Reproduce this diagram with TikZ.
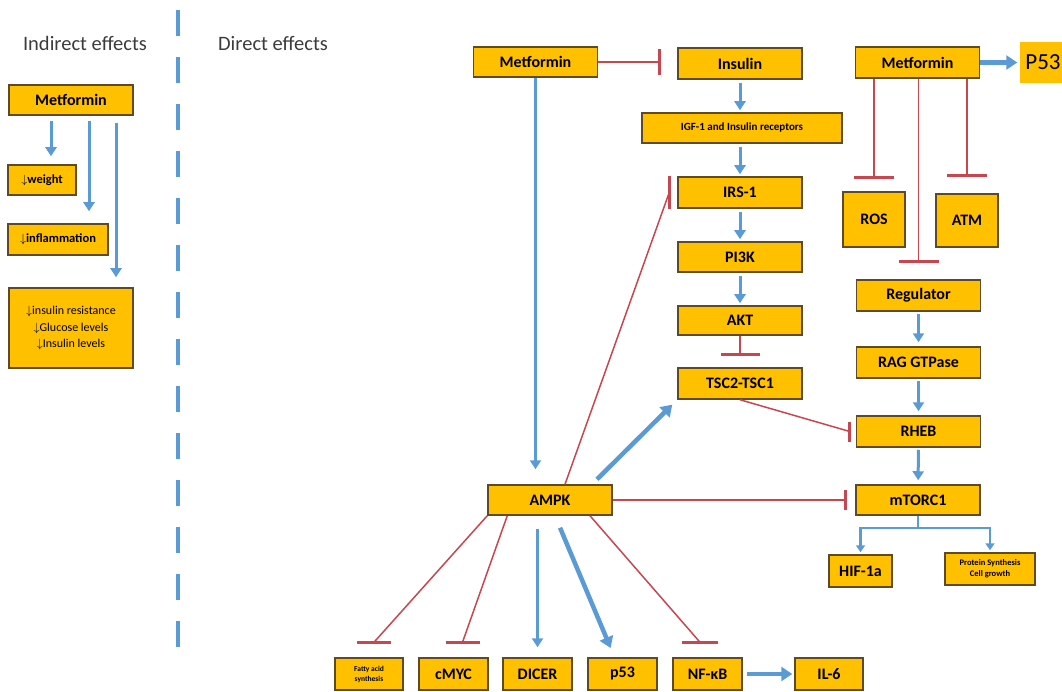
\documentclass[tikz,border=0pt]{standalone}
\usepackage{fontspec}
\setmainfont{Carlito}
\usetikzlibrary{arrows.meta,calc}
\definecolor{boxfill}{RGB}{255,192,0}
\definecolor{boxline}{RGB}{95,75,35}
\definecolor{actblue}{RGB}{91,155,213}
\definecolor{inhred}{RGB}{200,70,80}
\definecolor{titlegray}{RGB}{60,60,60}

\begin{document}
\begin{tikzpicture}[x=1pt,y=1pt,yscale=-1,
  box/.style={draw=boxline,fill=boxfill,line width=1.5pt,inner sep=1pt,align=center,font=\bfseries\fontsize{16}{18}\selectfont},
  wide/.style={minimum width=124pt,minimum height=30pt},
  small/.style={minimum height=30pt,font=\bfseries\fontsize{12.5}{14}\selectfont},
  low/.style={minimum width=69pt,minimum height=32pt},
  title/.style={text=titlegray,font=\fontsize{20.5}{24}\selectfont},
  act/.style={draw=actblue,line width=3pt,-{Triangle[length=9pt,width=11pt]}},
  actthick/.style={draw=actblue,line width=4.5pt,-{Triangle[length=11pt,width=14pt]}},
  branch/.style={draw=actblue,line width=2.5pt,-{Triangle[length=7pt,width=9pt]}},
  inh/.style={draw=inhred,line width=1.5pt},
  inhbar/.style={draw=inhred,line width=3pt},
  blocks/.style={inh,-{Bar[width=#1,line width'=3pt]}}
]
\useasboundingbox (0,0) rectangle (1062,692);

% headings and divider
\node[title] (tIndirect) at (85,43) {Indirect effects};
\node[title] (tDirect) at (273,43) {Direct effects};
\draw[actblue,line width=4pt,dash pattern={on 26pt off 21pt}] (178,10) -- (178,655);

% indirect effects
\node[box,wide] (metL) at (71,100) {Metformin};
\node[box,small,minimum width=68pt] (weight) at (42,180) {$\downarrow$weight};
\node[box,small,minimum width=100pt,minimum height=31pt] (inflam) at (58,239.5) {$\downarrow$inflammation};
\node[box,minimum width=124pt,minimum height=80pt,font=\fontsize{12}{16.5}\selectfont] (insres) at (71,328) {$\downarrow$insulin resistance\\$\downarrow$Glucose levels\\$\downarrow$Insulin levels};

\draw[act,shorten <=5pt,shorten >=8pt] ([xshift=-20pt]metL.south) -- ([xshift=9pt]weight.north);
\draw[act,shorten <=5pt,shorten >=12pt] ([xshift=18pt]metL.south) -- ([xshift=31pt]inflam.north);
\draw[act,shorten <=7pt,shorten >=10pt] ([xshift=45pt]metL.south) -- ([xshift=45pt]insres.north);

% insulin pathway
\node[box,wide] (metA) at (535.5,62) {Metformin};
\node[box,wide,minimum height=31pt] (insulin) at (740,63.5) {Insulin};
\node[box,minimum width=200pt,minimum height=30pt,font=\bfseries\fontsize{11}{13}\selectfont] (igf) at (742,128) {IGF-1 and Insulin receptors};
\node[box,wide,minimum height=31pt] (irs) at (740,192.5) {IRS-1};
\node[box,wide] (pi3k) at (740,257) {PI3K};
\node[box,wide,minimum height=29pt] (akt) at (740,320.5) {AKT};
\node[box,wide,minimum height=31pt] (tsc) at (740,383.5) {TSC2-TSC1};

% mTOR side
\node[box,wide,minimum height=31pt] (metB) at (917.5,62.5) {Metformin};
\node[box,draw=none,minimum width=46pt,minimum height=41pt,font=\fontsize{23}{26}\selectfont] (p53top) at (1043,62.5) {P53};
\node[box,minimum width=62pt,minimum height=55pt] (ros) at (874,219.5) {ROS};
\node[box,minimum width=62pt,minimum height=53pt] (atm) at (967,220.5) {ATM};
\node[box,wide,minimum height=31pt] (reg) at (918.5,295.5) {Regulator};
\node[box,wide,minimum height=31pt] (rag) at (918.5,362.5) {RAG GTPase};
\node[box,wide,minimum height=31pt] (rheb) at (918.5,431.5) {RHEB};
\node[box,wide] (mtor) at (918,500) {mTORC1};
\node[box,minimum width=63pt,minimum height=32pt] (hif) at (860.5,571) {HIF-1a};
\node[box,minimum width=90pt,minimum height=32pt,font=\bfseries\fontsize{8.5}{11}\selectfont] (prot) at (990,569) {Protein Synthesis\\Cell growth};

% AMPK and targets
\node[box,wide] (ampk) at (550,500) {AMPK};
\node[box,low,minimum width=68pt,font=\bfseries\fontsize{7.5}{10}\selectfont] (fatty) at (369,674) {Fatty acid\\synthesis};
\node[box,low] (cmyc) at (453.5,674) {cMYC};
\node[box,low] (dicer) at (537.5,674) {DICER};
\node[box,low] (p53b) at (622.5,674) {p53};
\node[box,low] (nfkb) at (707.5,674) {NF-κB};
\node[box,low,minimum width=68pt] (il6) at (829,674) {IL-6};

% connectors, insulin pathway
\draw[blocks=26pt,shorten >=16pt] (metA.east) -- (metA.east -| insulin.west);
\draw[act,shorten >=15pt] (metA.south) -- (metA.south |- ampk.north);
\draw[act,shorten <=3pt,shorten >=2pt] (insulin) -- (insulin |- igf.north);
\draw[act,shorten <=3pt,shorten >=2pt] (irs |- igf.south) -- (irs);
\draw[act,shorten <=3pt,shorten >=2pt] (irs) -- (pi3k);
\draw[act,shorten <=3pt,shorten >=2pt] (pi3k) -- (akt);
\draw[blocks=39pt,shorten >=11pt] (akt) -- (tsc);
\draw[actthick,shorten <=7pt,shorten >=7pt] ([xshift=42pt]ampk.north) -- (tsc.south west);

\coordinate (irsbar) at ([xshift=-8pt]irs.west);
\draw[inh] ([xshift=15pt]ampk.north) -- (irsbar);
\draw[inhbar] ([xshift=-8pt]irs.north west) -- ([xshift=-8pt]irs.south west);

% connectors, mTOR side
\draw[actthick,shorten >=2pt] (metB) -- (p53top);
\draw[blocks=40pt,shorten >=12pt] (metB.south -| ros) -- (ros);
\draw[blocks=40pt,shorten >=16pt] (metB.south -| atm) -- (atm);
\draw[blocks=40pt,shorten >=16pt] (metB.south -| reg) -- (reg);
\draw[act,shorten <=2pt,shorten >=4pt] (reg) -- (rag);
\draw[act,shorten <=2pt,shorten >=4pt] (rag) -- (rheb);
\draw[act,shorten <=2pt,shorten >=4pt] (rheb) -- (mtor);

\coordinate (rhebbar) at ([xshift=-6pt]rheb.west);
\draw[inh] (tsc.south) -- (rhebbar);
\draw[inhbar] ($(rhebbar)+(0,-10)$) -- ($(rhebbar)+(0,10)$);

\draw[blocks=20pt,shorten >=8pt] (ampk) -- (mtor);
\draw[branch,shorten >=2pt] (mtor.south) -- ++(0,12) -| (hif.north);
\draw[branch,shorten >=2pt] (mtor.south) -- ++(0,12) -| (prot.north);

% connectors, AMPK targets
\coordinate (fatbar) at ($(fatty.north)+(5,-15)$);
\coordinate (mycbar) at ($(cmyc.north)+(9,-15)$);
\coordinate (nfbar) at ($(nfkb.north)+(-7.5,-15)$);
\draw[inh] (ampk.south west) -- (fatbar);
\draw[inh] ([xshift=20pt]ampk.south west) -- (mycbar);
\draw[inh] ([xshift=40pt]ampk.south) -- (nfbar);
\draw[inhbar] ($(fatbar)+(-17,0)$) -- ($(fatbar)+(17,0)$);
\draw[inhbar] ($(mycbar)+(-17,0)$) -- ($(mycbar)+(17,0)$);
\draw[inhbar] ($(nfbar)+(-18,0)$) -- ($(nfbar)+(18,0)$);

\draw[act,shorten <=13pt,shorten >=10pt] (dicer.north |- ampk.south) -- (dicer.north);
\draw[actthick,shorten <=13pt,shorten >=10pt] ([xshift=5pt]ampk.south) -- ([xshift=-8pt]p53b.north);
\draw[actthick,shorten <=4pt,shorten >=2pt] (nfkb) -- (il6);

\end{tikzpicture}
\end{document}
